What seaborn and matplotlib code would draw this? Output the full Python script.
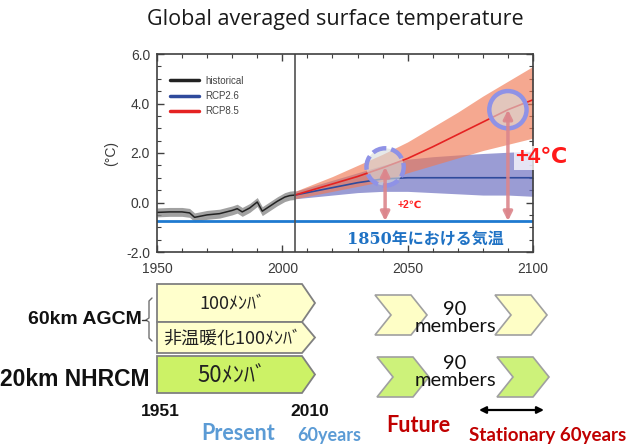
import numpy as np
import pandas as pd
import seaborn as sns
import matplotlib.pyplot as plt
from matplotlib.patches import Polygon

# ---- data ----
hist_years = [1950, 1955, 1960, 1963, 1965, 1970, 1975, 1980, 1982, 1984, 1987, 1990, 1992, 1995, 1998, 2001, 2003, 2005]
hist_temp = [-0.40, -0.38, -0.38, -0.42, -0.60, -0.50, -0.45, -0.32, -0.25, -0.38, -0.22, 0.02, -0.35, -0.15, 0.05, 0.22, 0.28, 0.30]
hist_lo = [-0.58, -0.56, -0.56, -0.60, -0.78, -0.68, -0.63, -0.50, -0.43, -0.56, -0.40, -0.16, -0.53, -0.33, -0.13, 0.04, 0.10, 0.12]
hist_hi = [-0.22, -0.20, -0.20, -0.24, -0.42, -0.32, -0.27, -0.14, -0.07, -0.20, -0.04, 0.20, -0.17, 0.03, 0.23, 0.40, 0.46, 0.48]

fut_years = [2005, 2010, 2020, 2030, 2040, 2050, 2060, 2070, 2080, 2090, 2100]
rcp85 = [0.30, 0.45, 0.75, 1.05, 1.40, 1.78, 2.25, 2.75, 3.25, 3.75, 4.15]
rcp85_lo = [0.15, 0.25, 0.45, 0.65, 0.85, 1.20, 1.50, 1.80, 2.10, 2.35, 2.60]
rcp85_hi = [0.45, 0.65, 1.05, 1.50, 1.95, 2.45, 3.05, 3.65, 4.30, 4.90, 5.50]
rcp26 = [0.30, 0.40, 0.60, 0.80, 0.95, 1.00, 1.00, 1.00, 1.00, 1.00, 1.00]
rcp26_lo = [0.15, 0.20, 0.30, 0.40, 0.45, 0.45, 0.40, 0.35, 0.30, 0.30, 0.25]
rcp26_hi = [0.45, 0.60, 0.90, 1.20, 1.50, 1.75, 1.85, 1.92, 1.98, 2.03, 2.08]

baseline_1850 = -0.75
present_end = 2005
circle_years = [2041, 2090]
warming_labels = ['+2℃', '+4℃']

rows = ['60km AGCM', '20km NHRCM']
present_labels = ['100ﾒﾝﾊﾞ', '非温暖化100ﾒﾝﾊﾞ', '50ﾒﾝﾊﾞ']
future_members = ['90\nmembers', '90\nmembers']

df_hist = pd.DataFrame({'year': hist_years, 'temp': hist_temp})
df_fut = pd.DataFrame({'year': fut_years, 'RCP2.6': rcp26, 'RCP8.5': rcp85})

sns.set_style('ticks')
plt.rcParams['font.family'] = ['Liberation Sans', 'DejaVu Sans', 'Noto Sans CJK JP']
plt.rcParams['axes.unicode_minus'] = False

fig = plt.figure(figsize=(6.26, 4.45), dpi=100)
bg = fig.add_axes([0, 0, 1, 1])
bg.set_xlim(0, 626)
bg.set_ylim(445, 0)
bg.set_axis_off()

ax = fig.add_axes([157 / 626, 193 / 445, 376 / 626, 198 / 445])

# bands
ax.fill_between(hist_years, hist_lo, hist_hi, color='#8a8a8a', alpha=0.8, lw=0)
ax.fill_between(fut_years, rcp26_lo, rcp26_hi, color='#6f72c2', alpha=0.7, lw=0)
ax.fill_between(fut_years, rcp85_lo, rcp85_hi, color='#f07a55', alpha=0.65, lw=0)

sns.lineplot(data=df_hist, x='year', y='temp', color='#222222', lw=1.1, label='historical', ax=ax)
sns.lineplot(data=df_fut, x='year', y='RCP2.6', color='#2f4a9c', lw=1.2, label='RCP2.6', ax=ax)
sns.lineplot(data=df_fut, x='year', y='RCP8.5', color='#e52222', lw=1.2, label='RCP8.5', ax=ax)

ax.axhline(baseline_1850, color='#1f7ad0', lw=2)
ax.axvline(present_end, color='#505050', lw=1.2)

# highlight circles on the RCP8.5 path
circle_vals = np.interp(circle_years, fut_years, rcp85)
ax.scatter(circle_years, circle_vals, s=720, facecolors=(0.84, 0.86, 0.86, 0.6),
           edgecolors='#8f92e6', linewidths=3.2, linestyles=[(0, (3.2, 1.1)), '-'], zorder=5)

for yr, v in zip(circle_years, circle_vals):
    ax.annotate('', xy=(yr, baseline_1850), xytext=(yr, v),
                arrowprops=dict(arrowstyle='<|-|>', color='#dc868c', lw=2.5,
                                mutation_scale=13, shrinkA=0, shrinkB=0, alpha=0.9), zorder=6)

ax.text(2046, -0.1, warming_labels[0], color='#ff2020', fontsize=7.5, fontweight='bold',
        va='center', ha='left', zorder=7)
ax.text(2093, 1.8, warming_labels[1], color='#ff1a1a', fontsize=16, fontweight='bold',
        va='center', ha='left', clip_on=False, zorder=7,
        bbox=dict(facecolor='white', edgecolor='none', alpha=0.75, pad=1))
ax.text(2057, -1.5, '1850年における気温', color='#1f72c4', fontsize=11.5, fontweight='bold',
        va='center', ha='center', family=['DejaVu Serif', 'Noto Sans CJK JP'])

ax.set_xlim(1950, 2100)
ax.set_ylim(-2, 6)
ax.set_xticks([1950, 2000, 2050, 2100])
ax.set_xticks(np.arange(1950, 2101, 10), minor=True)
ax.set_yticks([-2, 0, 2, 4, 6])
ax.set_yticklabels(['-2.0', '0.0', '2.0', '4.0', '6.0'])
ax.set_yticks(np.arange(-2, 6.01, 0.5), minor=True)
ax.tick_params(which='both', direction='in', top=True, right=True, labelsize=10,
               labelcolor='#3a3a3a', color='#404040')
ax.tick_params(which='major', length=5, width=1)
ax.tick_params(which='minor', length=3, width=0.8)
ax.tick_params(axis='x', which='major', pad=7)
ax.tick_params(axis='y', which='major', pad=5)
ax.set_xlabel('')
ax.set_ylabel('(°C)', fontsize=10, color='#3a3a3a', labelpad=6)
for s in ax.spines.values():
    s.set_color('#404040')
    s.set_linewidth(1.2)

leg = ax.legend(loc='upper left', bbox_to_anchor=(0.025, 0.91), frameon=False, fontsize=7,
                handlelength=3.0, handletextpad=0.6, labelspacing=0.55, borderaxespad=0)
for line in leg.get_lines():
    line.set_linewidth(2.5)
for t in leg.get_texts():
    t.set_color('#444444')

# ---- title and lower schematic ----
bg.text(335, 20, 'Global averaged surface temperature', ha='center', va='center',
        fontsize=15.5, family='Open Sans', color='#1a1a1a')


def pentagon(x0, x1, tip, y0, y1):
    return [(x0, y0), (x1, y0), (tip, (y0 + y1) / 2), (x1, y1), (x0, y1)]


def chevron(x0, y0, y1, w=36, d=16):
    m = (y0 + y1) / 2
    return [(x0, y0), (x0 + w, y0), (x0 + w + d, m), (x0 + w, y1), (x0, y1), (x0 + d, m)]


yellow = '#ffffcc'
green = '#ccf266'
edge = '#808080'
pent_rows = [(284, 322, yellow), (322, 353, yellow), (356, 393, green)]
for (y0, y1, c), lab in zip(pent_rows, present_labels):
    bg.add_patch(Polygon(pentagon(157, 302, 315, y0, y1), closed=True, fc=c, ec=edge, lw=1.3))
    fs = 13 if len(lab) > 6 else 16
    bg.text(232, (y0 + y1) / 2 + 1, lab, ha='center', va='center', fontsize=fs,
            family=['Noto Sans CJK JP'], color='#222222')

for x0 in [375, 495]:
    bg.add_patch(Polygon(chevron(x0, 295, 335), closed=True, fc='#fefec6', ec='#a0a0a0', lw=1.2))
    bg.add_patch(Polygon(chevron(x0 + 2, 357, 397), closed=True, fc='#cdf27a', ec='#a0a0a0', lw=1.2))
for yc, lab in zip([318, 372], future_members):
    bg.text(455, yc, lab, ha='center', va='center', fontsize=14.5, family='Lato',
            color='#111111', linespacing=1.0)

# brace
bg.plot([152, 149, 149, 146, 149, 149, 152], [298, 301, 318, 320, 322, 338, 341],
        color='#707070', lw=1)
bg.plot([142, 146], [320, 320], color='#333333', lw=1)

bg.text(142, 320, rows[0], ha='right', va='center', fontsize=14, fontweight='bold', color='#111111')
bg.text(150, 380, rows[1], ha='right', va='center', fontsize=16.5, fontweight='bold', color='#111111')

bg.text(160, 412, '1951', ha='center', va='center', fontsize=12.5, fontweight='bold', color='#111111')
bg.text(310, 412, '2010', ha='center', va='center', fontsize=12.5, fontweight='bold', color='#111111')
bg.text(238, 433, 'Present', ha='center', va='center', fontsize=15.5, fontweight='bold',
        family='Lato', color='#5b9bd5')
bg.text(297, 436, '60years', ha='left', va='center', fontsize=13, fontweight='bold',
        family='Lato', color='#5b9bd5')
bg.text(418, 425, 'Future', ha='center', va='center', fontsize=15.5, fontweight='bold',
        family='Lato', color='#c00000')
bg.text(626, 436, 'Stationary 60years', ha='right', va='center', fontsize=13.5, fontweight='bold',
        family='Lato', color='#c00000')
bg.annotate('', xy=(544, 410), xytext=(479, 410),
            arrowprops=dict(arrowstyle='<|-|>', color='black', lw=1.6, mutation_scale=10,
                            shrinkA=0, shrinkB=0))

fig.savefig('out.png', dpi=100)
